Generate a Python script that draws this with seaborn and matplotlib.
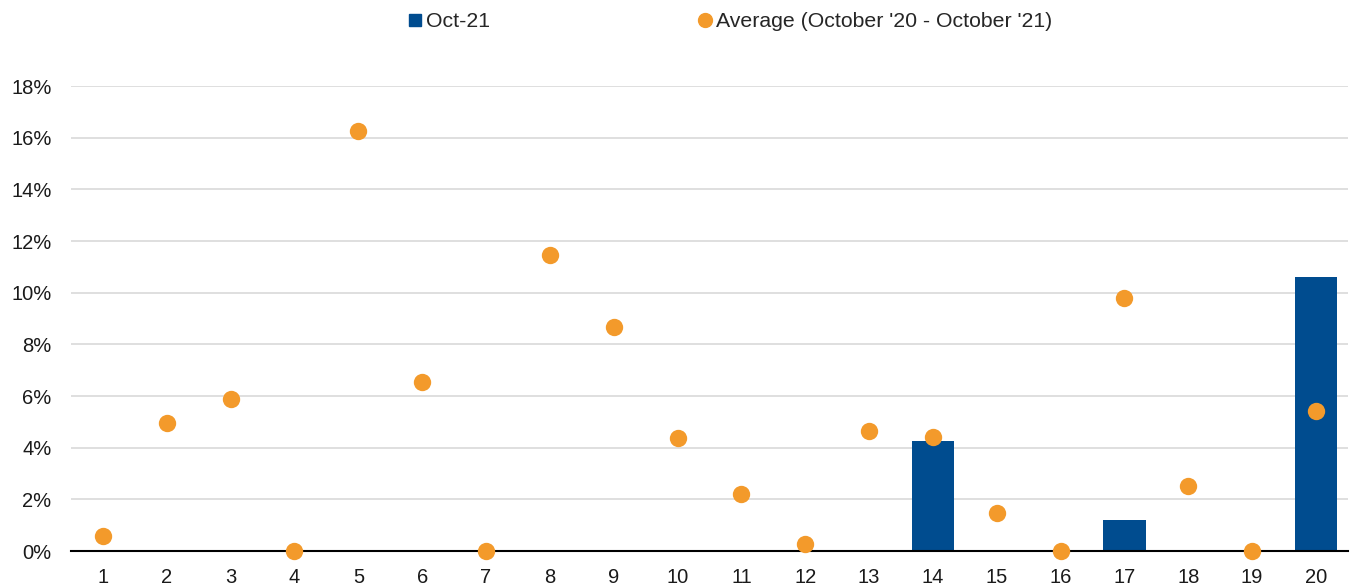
import matplotlib
matplotlib.use("Agg")
import matplotlib.pyplot as plt
import seaborn as sns
import numpy as np
from matplotlib.lines import Line2D
from matplotlib.ticker import FuncFormatter, MultipleLocator

categories = [str(i) for i in range(1, 21)]
oct21 = [0, 0, 0, 0, 0, 0, 0, 0, 0, 0, 0, 0, 0, 4.26, 0, 0, 1.2, 0, 0, 10.6]
average = [0.6, 4.95, 5.88, 0.0, 16.26, 6.54, 0.0, 11.46, 8.67, 4.37,
           2.21, 0.27, 4.65, 4.41, 1.47, 0.0, 9.79, 2.52, 0.0, 5.42]
series_labels = ["Oct-21", "Average (October '20 - October '21)"]

sns.set_theme(style="white")
plt.rcParams['font.family'] = ['Liberation Sans', 'DejaVu Sans']

bar_color = "#004C8F"
dot_color = "#F39A2B"

fig = plt.figure(figsize=(13.55, 5.86), dpi=100)
ax = fig.add_axes([0.0524, 0.0597, 0.9424, 0.7935])

sns.barplot(x=categories, y=oct21, order=categories, color=bar_color,
            width=0.67, edgecolor="none", linewidth=0, saturation=1, ax=ax, zorder=2)
sns.stripplot(x=categories, y=average, order=categories, color=dot_color,
              jitter=False, size=12.5, linewidth=0, ax=ax, zorder=4)
for coll in ax.collections:
    coll.set_clip_on(False)

ax.set_ylim(0, 18)
ax.set_xlim(-0.5, len(categories) - 0.5)
ax.yaxis.set_major_locator(MultipleLocator(2))
ax.yaxis.set_major_formatter(FuncFormatter(lambda v, p: f"{v:.0f}%"))
ax.grid(axis="y", color="#d9d9d9", linewidth=1.2, zorder=0)
ax.set_axisbelow(True)
for s in ["top", "right", "left"]:
    ax.spines[s].set_visible(False)
ax.spines["bottom"].set_color("black")
ax.spines["bottom"].set_linewidth(1.5)
ax.spines["bottom"].set_zorder(3)
ax.tick_params(axis="both", labelsize=14.5, colors="#1a1a1a", length=0)
ax.tick_params(axis="y", pad=14)
ax.tick_params(axis="x", pad=12.5)
ax.set_xlabel("")
ax.set_ylabel("")

handles = [
    Line2D([], [], marker="s", linestyle="none", color=bar_color, markersize=8.5),
    Line2D([], [], marker="o", linestyle="none", color=dot_color, markersize=10),
]
fig.legend(handles, series_labels, loc="upper center", bbox_to_anchor=(0.5375, 1.012),
           ncol=2, frameon=False, fontsize=15.3, handletextpad=0.05,
           columnspacing=9.6, handlelength=1.0)

fig.savefig("out.png", dpi=100)
